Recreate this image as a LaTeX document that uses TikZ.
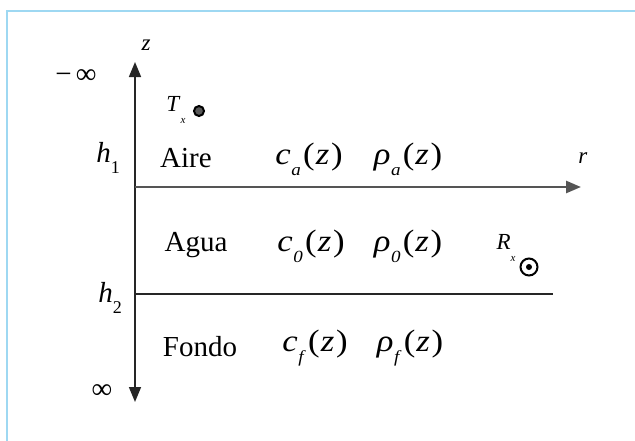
\documentclass[tikz,border=0pt]{standalone}
\usepackage{fontspec}
\setmainfont{Liberation Serif}
\usetikzlibrary{arrows.meta}
\definecolor{frameblue}{HTML}{9ED8F2}
\definecolor{axisgray}{HTML}{555555}
\tikzset{
  lab/.style={font=\fontsize{29}{32}\selectfont, inner sep=0pt, anchor=center},
  mathlab/.style={font=\fontsize{31}{34}\selectfont, inner sep=0pt, anchor=center},
  smalllab/.style={font=\fontsize{23}{26}\selectfont, inner sep=0pt, anchor=center},
  axisline/.style={line width=1.6pt, draw=black!85},
  raxis/.style={line width=2.6pt, draw=axisgray},
  bigtip/.style={-{Triangle[length=15pt,width=12pt]}},
  bigtips/.style={{Triangle[length=15pt,width=12pt]}-{Triangle[length=15pt,width=12pt]}},
}
\newcommand{\fnlab}[2]{\scalebox{1.12}[1]{\textit{#1}\kern0.5pt\raisebox{-0.35em}{\fontsize{17}{17}\selectfont\textit{#2}}\kern2pt(\kern1pt\textit{z}\kern1.5pt)}}
\begin{document}
\begin{tikzpicture}[x=1pt,y=-1pt]
\useasboundingbox (0,0) rectangle (635,440);
\fill[white] (0,0) rectangle (635,440);
% frame
\draw[frameblue, line width=1.2pt] (7,445) -- (7,11) -- (640,11);
% axes
\coordinate (ztop) at (135,62);
\coordinate (zbot) at (135,402);
\coordinate (rorig) at (135,187);
\coordinate (rend) at (581,187);
\coordinate (hleft) at (135,294);
\coordinate (hright) at (553,294);
\draw[axisline, bigtips] (zbot) -- (ztop);
\draw[raxis, bigtip] (rorig) -- (rend);
\draw[axisline] (hleft) -- (hright);
% labels
\node[smalllab] (zl) at (146,45) {\textit{z}};
\node[lab] (minf) at (76,77) {−\kern4pt∞};
\node[lab] (inf) at (102,392) {∞};
\node[lab] (h1) at (108,158) {\textit{h}\raisebox{-0.35em}{\fontsize{18}{18}\selectfont 1}};
\node[lab] (h2) at (110,298) {\textit{h}\raisebox{-0.35em}{\fontsize{18}{18}\selectfont 2}};
\node[smalllab] (rl) at (583,158) {\textit{r}};
\node[smalllab] (tx) at (176,110) {\textit{T}\raisebox{-0.5em}{\fontsize{11}{11}\selectfont\textit{x}}};
\node[circle, draw=black, fill=black!65, line width=2pt, minimum size=10pt, inner sep=0pt] (txdot) at (199,111) {};
\node[smalllab] (rx) at (506,248) {\textit{R}\raisebox{-0.55em}{\fontsize{11}{11}\selectfont\textit{x}}};
\node[circle, draw=black, line width=2pt, minimum size=17pt, inner sep=0pt] (rxdot) at (529,267) {};
\node[circle, fill=black, minimum size=6pt, inner sep=0pt] (rxin) at (529,267) {};
\node[lab] (aire) at (186,158) {Aire};
\node[lab] (agua) at (196,245) {Agua};
\node[lab] (fondo) at (200,347) {Fondo};
\node[mathlab] (ca) at (309,159) {\fnlab{c}{a}};
\node[mathlab] (ra) at (408,159) {\fnlab{ρ}{a}};
\node[mathlab] (c0) at (311,246) {\fnlab{c}{0}};
\node[mathlab] (r0) at (408,246) {\fnlab{ρ}{0}};
\node[mathlab] (cf) at (315,348) {\fnlab{c}{f}};
\node[mathlab] (rf) at (410,348) {\fnlab{ρ}{f}};
\end{tikzpicture}
\end{document}
